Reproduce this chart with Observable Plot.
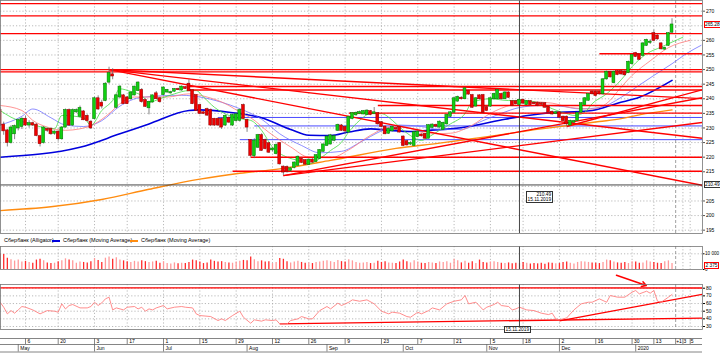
<!DOCTYPE html>
<html><head><meta charset="utf-8">
<script src="https://cdn.jsdelivr.net/npm/d3@7"></script>
<script src="https://cdn.jsdelivr.net/npm/@observablehq/plot@0.6"></script>
<style>
html,body{margin:0;padding:0;background:#fff;}
#wrap{position:relative;width:720px;height:353px;overflow:hidden;background:#fff;font-family:"Liberation Sans",Arial,sans-serif;}
#wrap svg{position:absolute;left:0;overflow:visible;}
.box{position:absolute;font-size:4.8px;line-height:5px;background:#fff;border:0.8px solid #444;padding:0 0.5px;white-space:nowrap;color:#000;}
.leg{position:absolute;font-size:5.5px;top:237px;color:#000;white-space:nowrap;}
.legline{position:absolute;top:240px;height:1.5px;width:8px;}
</style></head><body><div id="wrap"></div>
<script>
// ---------- DATA ----------
const open = [236,231,229,225,228,230,230.5,233,231,231.5,231,227,225,229.5,229.5,228.2,228.6,226.3,230.3,236,
231,235.5,234,235.5,234,232,233.2,240,238.5,239.4,245.7,248.2,237.1,240.6,241,240.3,240,241.3,242.8,242.9,
239.4,236.9,238.9,241.7,240,241.4,242.3,242,242.6,243.2,243,243.8,245,242.8,241.1,237.7,235.2,236.3,236,233,
233,233,231,233.3,231,232.5,232.6,237.7,232.6,225.7,220.5,223.4,227.4,225.7,224.6,222.5,221.2,224.7,216.6,216.5,
215.5,216.5,217.2,219.3,218.8,217.5,219,218.5,219.5,222,224,224.5,225.8,229.2,230.7,230.2,228.6,233.2,234.5,235,
234.8,234.6,235.6,235,234.9,231.8,230.3,228.2,229,229.8,230.2,226.9,225.3,224.5,224,227,227.6,227.8,226.5,230.2,
230.9,230.3,229.5,231.4,234,235.4,239.2,240.2,240,242.6,241.1,237.5,241,241.1,237,237.5,240,240,241.5,240,
242,239,239,238,239.5,238,239,238.5,238.5,238.3,238.3,237.1,235.4,235,235.2,233.7,233.7,231,232,232.5,
235.4,238,239.5,242.3,242.3,242.3,241.7,246.8,249,245.5,249.3,249.3,249.2,249,252,255.5,255,254.8,258.3,259.3,
262.3,261.5,258.8,257,258.3,262.8];
const high = [237,232,229.5,230.8,231,233,233.5,234,232.5,232,231.5,227.5,230.5,230,230,229,229,230.5,236.5,236.5,
236.5,236.5,237.5,236,234.5,232.5,240.5,241,239.5,245.5,250.8,250.3,241.5,244.5,241.5,240.8,242.3,244.3,245.8,243.5,
240,239.2,241.3,242.5,240.5,244,243.2,242.6,243.5,243.6,244.4,244.2,246.5,243,241.3,238,235.6,236.8,236.5,233.3,
233.5,233.5,234.5,233.8,234.8,235,236.5,238.2,233,226,226.3,227.8,228,226.2,225,223.2,224.5,225,217,217,
216.5,218.4,220.4,219.8,219.2,219.4,219.5,220.8,222.6,224.5,227.2,227.8,227.5,231.3,231.2,230.6,234,235.3,235.5,235.8,
236,236.2,236,237,235.3,232.2,230.7,230,230.6,230.3,230.6,227.3,225.7,225.3,228.8,229,228,228.2,231.2,231.4,
231.3,232.4,232,234.7,235.6,240.4,240.9,240.7,243.8,243,241.5,240.4,241.4,241.5,237.4,240.4,241.9,243.2,241.9,242.4,
242.4,239.4,239.4,239.9,239.9,239.4,239.4,238.9,238.9,238.7,238.7,237.5,235.8,235.6,235.6,234.1,234.1,232.7,232.6,235.4,
238.7,240.4,241.8,242.7,242.7,242.7,246.9,249.5,249.4,249.5,249.7,249.7,249.6,252.9,255.2,255.9,255.4,259.2,260.4,260.2,
263.5,261.9,259.2,257.7,262.7,267.4];
const low = [230.5,227.5,223.5,224.5,226,229,229.5,230.5,230,230.5,227,223.5,224.5,228.5,227.5,227.5,225.5,225.8,230,230.5,
230.5,235,233.5,232.5,232,229.5,232.8,236,236.5,239,245,246.5,236.5,240,238,238,239.5,241,242.5,238.5,
237,234.5,238.5,239.8,238.5,241,242,241.6,242.2,242.8,242.6,243.2,242.5,238,235.8,234.5,234.6,234,230.5,230.5,
230.5,229.5,230.5,231.5,230.5,232,232,233,228.5,220,219.5,223,222,222.5,221.3,221.8,220.8,217.3,213.7,214.5,
215,216,217,217.8,217.2,217.2,218,218.2,219.2,221.7,223.7,224.2,225.3,228.8,228.8,227.8,228.2,232.8,234,234.6,
234.5,234.3,234.2,234.7,231,230.2,227.7,227.8,228.7,229.2,228.3,223.6,223.8,224,223.6,226.7,226.9,226.1,226.2,229.9,
230.2,230,229.2,231,233.6,235,238.8,239.6,239.7,241.2,236.7,237.2,239.6,235,235.6,237.1,239.6,239.7,239.6,239.7,
240.1,237.3,237.9,237.7,238.1,237.7,237.6,238,237.3,237.8,236.8,235,234.4,234.6,233.3,232.1,230.5,230.7,231.6,232.2,
235,237.7,239.2,241.3,240.7,241.3,241.3,246.4,247.1,245.1,247.9,248.1,247.8,248.6,251.6,254.1,253.1,254.4,257.9,258.6,
259.6,260.1,256.7,256.6,257.9,262.4];
const close = [231,229,225,230,230.5,232.5,233,231,231.5,231,227.4,224.6,230,229.2,228,228.6,226.3,230,236,231,
236,236,236.7,232.8,232.5,230,240,236.5,237.5,245,248.6,247.8,241,244,238.3,238.3,242,244,245.4,239,
237.4,238.8,241,240,239,243.7,242.9,242.1,243.2,243.1,244,243.5,242.7,238.3,236,235,235,234.4,231,231,
231,230.3,234,232,234.3,234.5,236,233.2,230.3,220.6,225.5,227.4,222.3,222.9,221.7,222.8,224,217.7,214.9,215.2,
216,218,220,218.2,217.6,219,218.3,220.5,222.3,224.2,226.9,227.3,227,230.9,229.2,229,233.7,234.9,235,235.3,
235.6,235.8,234.6,235.2,231.4,230.5,228,229.6,230.2,229.6,228.6,224,224.2,224.7,228.4,228.6,227.3,226.5,230.8,231,
230.6,232,231.6,234.3,235.2,240,240.5,240,243.4,241.6,237.1,240,240,235.4,236,240,241.5,242.8,240,242,
240.5,237.7,238.3,239.5,238.5,239,238,238.3,237.7,238.1,237.1,235.4,234.8,235.2,233.7,232.5,231.4,232.3,232.2,235,
238.3,240,241.4,241.7,241.1,241.7,246.5,249.1,247.5,249.1,248.3,248.5,248.2,252.5,254.8,254.5,253.5,258.8,260,259.4,
260,260.5,257.1,257.3,262.3,265.28];
const volume = [9800,9500,7200,6200,5400,6000,4800,5200,4500,4000,
6000,6600,5500,4200,3800,4000,5000,5500,6800,6000,
5500,4000,4800,4500,4200,5000,7000,5800,4500,7200,
8000,6500,7500,6000,5500,5000,4500,5200,4800,5500,
5000,4500,4800,5200,4000,5000,3800,3500,4200,3600,
4000,3800,4500,6000,5500,4800,3800,4200,6000,5200,
4800,5000,4500,4200,4000,4800,5200,5800,5500,8000,
6200,5000,5500,4800,5000,3800,4500,7000,6500,5000,
4200,4800,5200,4500,4000,4200,3800,4500,4800,5200,
5500,5000,4500,5800,5000,4800,6200,5500,4500,4000,
4200,4400,3800,4000,5200,4500,5000,4200,4000,3800,
4800,6000,5000,4200,5500,4800,4000,3800,4500,4200,
3800,4800,4500,5000,4000,6500,5500,4200,5200,4000,
5000,3800,6000,4500,4200,4800,5000,4500,4000,3800,
4200,3600,4000,3800,4500,4000,3500,3800,3600,4000,
3400,4200,4000,3600,3800,4500,4800,4000,3500,4500,
5000,4800,4500,4200,4000,3800,4500,6000,5500,4800,
4200,4000,4500,3800,5000,4800,4000,4200,5500,4800,
4500,4000,3800,5000,5500,3800];

// Alligator (jaw / teeth / lips) and moving averages at sample bars
const jawIdx = [0,6,9,14,18,23,28,33,39,50,55,61,66,72,77,83,88,94,99,105,110,116,121,127,132,138,143,149,154,160,165,171,174,180,185,189,193];
const jawVal = [231,234,236.5,233.5,231,230.5,232.5,237.5,240.5,241.2,240.6,238.8,236.6,233,228,224,221.5,222,225,229,231,230.5,229.5,229.5,232,235,237,237.7,237.5,236.5,237,240.5,243,248,252,255.5,258.3];
const teethIdx = [0,6,9,13,18,22,26,30,33,37,41,46,52,57,63,66,69,74,80,85,91,96,102,108,113,118,124,130,135,141,146,152,157,163,168,170,174,179,184,190];
const teethVal = [237.7,236,232.6,230.3,229.2,229.7,231.4,234.9,238.3,240.6,240.6,240.6,241.7,240.6,237.7,235.4,233.5,228.5,223.5,220,219.8,222.5,227.5,230.5,229.8,228,228.2,231,235,238,239,238.5,237,236.5,239.5,242.5,248,253,257.5,260];
const lipsIdx = [0,3,8,15,17,23,25,28,31,33,36,39,41,44,48,52,54,56,59,63,66,69,72,75,79,82,85,88,91,94,96,99,102,105,108,110,113,116,118,121,124,128,130,135,140,144,149,152,156,158,161,163,167,171,174,178,182,185,188];
const lipsVal = [236,233.7,231.5,229.7,234.3,233.5,230.9,236,239.4,243.4,242.5,241.1,238.8,240,241.7,242.8,242.8,240.6,237.1,234.3,233.2,232.6,229.2,223.4,220,218.9,217.7,219.5,222.3,225.1,228.6,232.6,234.9,234.9,232.6,230.3,227.4,225.7,226.9,229.2,231.4,234.9,238.8,240,239.4,239.4,238.3,236.6,234.9,234.3,235.4,238.3,241.7,246.5,251,255.4,257.7,259.4,261.1];
const maBlueIdx = [0,22,33,41,52,55,63,72,80,85,91,96,102,107,113,118,124,130,139,149,163,170,176,185];
const maBlueVal = [220,223.4,228,231.4,236,236.2,235.4,233.5,229.5,227.5,227.4,228.6,229.7,229.2,228.8,229.2,229.7,230.7,233,234.9,236,238.5,240.5,246.3];
const maOrangeIdx = [0,14,28,41,55,66,77,91,109,121,130,149,165,171,176,185];
const maOrangeVal = [201.7,203,205.5,209,212.5,214.5,216,218.9,223,224.8,226.3,229.7,232.2,233.2,234.5,236.2];

// RSI read at sample bars
const rsiIdx = [0,1,2,3,4,5,6,7,9,11,13,15,16,17,18,19,20,22,24,25,26,27,28,29,30,31,32,34,35,37,38,39,40,41,42,43,45,46,48,50,51,53,54,55,58,60,61,62,64,66,67,69,70,72,73,75,76,77,79,80,82,83,85,86,88,90,91,93,94,96,97,99,101,103,105,107,108,110,112,113,115,116,118,119,121,123,125,127,128,129,131,133,134,136,137,138,140,141,142,143,145,147,149,151,152,153,154,156,158,160,162,163,165,167,168,170,172,174,175,176,178,179,180,181,182,184,185];
const rsiVal = [61.7,55.2,46.5,50.8,47.4,51.7,56.1,55.2,51.7,46.5,50.8,50,48.7,59.6,53,57.4,58.7,54.3,54.3,56.1,61.7,57.4,60.8,66.1,68.3,51.7,54.3,51.7,55.2,56.1,53,55.2,50,53,51.7,54.3,57.4,53,55.2,56.1,55.2,54.3,46.5,44.3,43,37.8,40,37.8,44.3,50,42.1,34.3,38.7,37,38.7,37.8,38.7,33.4,33.4,37.8,40,43,40,40,50.8,56.1,53,60.5,57.4,61.7,64.8,63,64.8,59.6,50,46.5,48.7,47.4,43,42.1,48.7,46.5,50.8,54.3,51.7,59.6,63,64.8,70.5,59.6,61.7,51.7,55.2,58.7,61.7,57.4,56.1,51.7,53,55.2,51.7,50.8,47.4,45.6,47.4,40,38.7,41.2,51.7,59.6,61.7,61.7,66.1,61.7,70.5,68.3,68.3,74.8,77,72.6,76.1,73.5,77,63,61.7,68.3,71.8];

// Trend lines drawn on the price panel: bar index / price at both ends
const tlI1 = [0,0,0,0,0,165,52,52,104,96,69,64,30,30,30,78,78,156,60,70,66];
const tlP1 = [272.6,268.4,262.3,250.0,249.2,255.4,244.2,243.0,237.7,235.1,220.0,215.2,250,250,250,213.7,213.7,230.5,233.6,230.7,226.0];
const tlI2 = [194,194,194,194,194,194,194,194,194,194,194,194,194,194,194,194,194,194,194,194,194];
const tlP2 = [272.6,268.4,262.3,250.0,249.2,255.4,244.2,243.0,237.7,235.1,220.0,215.2,210.2,240.0,226.4,240.5,232.0,243.3,233.6,230.7,226.0];
const tlKind = ["r","r","r","r","r","r","r","r","r","r","r","r","r","r","r","r","r","r","b","b","b"];

// RSI panel lines
const rsiLineI1 = [0,77,154], rsiLineV1 = [80.5,33.5,37.5];
const rsiLineI2 = [194,194,194], rsiLineV2 = [80.3,41,72.5];
const rsiArrow = {i1:169.7, v1:97, i2:177.9, v2:83.5};

// Axis / tick labels
const priceTicks = [195,200,205,210,215,220,225,230,235,240,245,250,255,260,265,270];
const rsiTicks = [30,40,50,60,70,80];
const volTicks = [0,10000], volTickLbl = ["0","10\u00a0000"];
const dayTickIdx = [7,16,26,35,45,55,65,75,85,95,105,115,125,135,144,154,164,174,180];
const dayTickLbl = ["6","20","3","17","1","15","29","12","26","9","23","7","21","5","18","2","16","30","13"];
const futTickIdx = [186,188,190];
const futTickLbl = ["+1","3","5"];
const monthIdx = [5,26,45,68,90,111,134,154,175];
const monthLbl = ["May","Jun","Jul","Aug","Sep","Oct","Nov","Dec","2020"];
const crossIdx = 143, crossPrice = 210.49, crossDate = "15.11.2019";
const lastPrice = 265.28, lastVolLabel = "2\u00a0375";
const legendText = ["Сбербанк (Alligator)","Сбербанк (Moving Average)","Сбербанк (Moving Average)"];

// ---------- BUILD ----------
const candles = close.map((c,i)=>({i,o:open[i],h:high[i],l:low[i],c,v:volume[i]}));
const pts = (I,V)=>I.map((i,k)=>({i,v:V[k]}));
const trend = tlI1.map((_,k)=>({i1:tlI1[k],p1:tlP1[k],i2:tlI2[k],p2:tlP2[k],kind:tlKind[k]}));
const rsiLines = rsiLineI1.map((_,k)=>({i1:rsiLineI1[k],v1:rsiLineV1[k],i2:rsiLineI2[k],v2:rsiLineV2[k]}));
const XD = [0.1156,193.39];
const xs = {domain:XD, range:[0,702], axis:null};
const FONT = "Liberation Sans, Arial, sans-serif";
const grid = {stroke:"#a8a8a8", strokeOpacity:1, strokeDasharray:"1.2,2", strokeWidth:0.8};
const up = d=>d.c>=d.o;
const wrap = document.getElementById("wrap");
const labelTicks = priceTicks.filter(t=>Math.abs(t-lastPrice)>2 && Math.abs(t-crossPrice)>2);

const main = Plot.plot({
  width:720, height:234, marginTop:0, marginBottom:1, marginLeft:0, marginRight:18,
  x: xs, y:{domain:[193.86,273.66], range:[233,0], axis:null, label:null},
  style:{fontSize:"5px", fontFamily:FONT, background:"transparent", color:"#000"},
  marks:[
    Plot.gridY(priceTicks, grid),
    Plot.gridX(dayTickIdx, grid),
    Plot.ruleX(futTickIdx.slice(0,1), {stroke:"#888", strokeDasharray:"3,2", strokeWidth:0.8}),
    Plot.ruleX(futTickIdx.slice(1), grid),
    Plot.link(trend.filter(d=>d.kind==="b"), {x1:"i1",y1:"p1",x2:"i2",y2:"p2",stroke:"#4a4aff",strokeWidth:1,clip:true}),
    Plot.line(pts(maOrangeIdx,maOrangeVal), {x:"i",y:"v",stroke:"#ff8c10",strokeWidth:1.4,curve:"monotone-x"}),
    Plot.line(pts(maBlueIdx,maBlueVal), {x:"i",y:"v",stroke:"#0000dd",strokeWidth:1.6,curve:"monotone-x"}),
    Plot.line(pts(jawIdx,jawVal), {x:"i",y:"v",stroke:"#7070ff",strokeWidth:0.8,curve:"monotone-x"}),
    Plot.line(pts(teethIdx,teethVal), {x:"i",y:"v",stroke:"#ff7a7a",strokeWidth:0.8,curve:"monotone-x"}),
    Plot.line(pts(lipsIdx,lipsVal), {x:"i",y:"v",stroke:"#44dd44",strokeWidth:0.8,curve:"monotone-x"}),
    Plot.link(trend.filter(d=>d.kind==="r"), {x1:"i1",y1:"p1",x2:"i2",y2:"p2",stroke:"#ff0000",strokeWidth:1.4,clip:true}),
    Plot.ruleX([crossIdx], {stroke:"#333", strokeWidth:0.9}),
    Plot.ruleY([crossPrice], {stroke:"#333", strokeWidth:0.9}),
    Plot.ruleX(candles, {x:"i", y1:"l", y2:"h", stroke:"#666", strokeWidth:0.8}),
    Plot.rect(candles, {x1:d=>d.i-0.4, x2:d=>d.i+0.4, y1:"o", y2:"c", insetTop:-0.5, insetBottom:-0.5,
      fill:d=>up(d)?"#10d010":"#ee0000", stroke:d=>up(d)?"#007000":"#900000", strokeWidth:0.5}),
    Plot.frame({stroke:"#777", strokeWidth:0.8}),
    Plot.axisY(labelTicks, {anchor:"right", label:null, tickSize:2, tickPadding:1.5, fontSize:5, stroke:"#555"})
  ]
});
main.style.top = "0px";
wrap.appendChild(main);

const vol = Plot.plot({
  width:720, height:25, marginTop:0, marginBottom:2, marginLeft:0, marginRight:18,
  x: xs, y:{domain:[0,14650], range:[23,0], axis:null, label:null},
  style:{fontSize:"4.6px", fontFamily:FONT, background:"transparent", color:"#000"},
  marks:[
    Plot.gridY([10000], grid),
    Plot.gridX(dayTickIdx, grid),
    Plot.ruleX(futTickIdx.slice(0,1), {stroke:"#888", strokeDasharray:"3,2", strokeWidth:0.8}),
    Plot.ruleX(futTickIdx.slice(1), grid),
    Plot.ruleX(candles, {x:"i", y1:0, y2:"v", stroke:d=>up(d)?"#ff9a9a":"#ff2a2a", strokeWidth:1.3}),
    Plot.ruleX([crossIdx], {stroke:"#333", strokeWidth:0.9}),
    Plot.frame({stroke:"#777", strokeWidth:0.8}),
    Plot.axisY(volTicks, {anchor:"right", label:null, tickSize:1.5, tickPadding:1, fontSize:4.6, tickFormat:d=>volTickLbl[volTicks.indexOf(d)]})
  ]
});
vol.style.top = "246px";
wrap.appendChild(vol);

const rsi = Plot.plot({
  width:720, height:58, marginTop:12, marginBottom:1, marginLeft:0, marginRight:18,
  x: xs, y:{domain:[26.1,84.85], range:[57,12], axis:null, label:null},
  style:{fontSize:"5px", fontFamily:FONT, background:"transparent", color:"#000"},
  marks:[
    Plot.gridY(rsiTicks, grid),
    Plot.gridX(dayTickIdx, grid),
    Plot.ruleX(futTickIdx.slice(0,1), {stroke:"#888", strokeDasharray:"3,2", strokeWidth:0.8}),
    Plot.ruleX(futTickIdx.slice(1), grid),
    Plot.link(rsiLines, {x1:"i1",y1:"v1",x2:"i2",y2:"v2",stroke:"#ff0000",strokeWidth:1.3,clip:true}),
    Plot.line(pts(rsiIdx,rsiVal), {x:"i",y:"v",stroke:"#ff8080",strokeWidth:0.9}),
    Plot.ruleX([crossIdx], {y1:26.1, y2:84.85, stroke:"#333", strokeWidth:0.9}),
    Plot.arrow([rsiArrow], {x1:"i1",y1:"v1",x2:"i2",y2:"v2",stroke:"#ff0000",strokeWidth:1.5,headLength:5,bend:0}),
    Plot.frame({stroke:"#777", strokeWidth:0.8}),
    Plot.axisY(rsiTicks, {anchor:"right", label:null, tickSize:2, tickPadding:1.5, fontSize:5})
  ]
});
rsi.style.top = "272px";
wrap.appendChild(rsi);

const dax = Plot.plot({
  width:720, height:23, marginTop:0, marginBottom:0, marginLeft:0, marginRight:18,
  x: xs, y:{domain:[0,23], range:[0,23], axis:null, label:null},
  style:{fontSize:"5px", fontFamily:FONT, background:"transparent", color:"#000"},
  marks:[
    Plot.ruleY([8,14,21.5], {x1:XD[0], x2:XD[1], stroke:"#666", strokeWidth:0.8}),
    Plot.ruleX(dayTickIdx.concat(futTickIdx), {y1:8, y2:14, stroke:"#666", strokeWidth:0.8}),
    Plot.ruleX(monthIdx, {y1:14, y2:21.5, stroke:"#666", strokeWidth:0.8}),
    Plot.text(dayTickIdx, {x:d=>d, y:11.3, text:(d,k)=>dayTickLbl[k], textAnchor:"start", dx:2}),
    Plot.text(futTickIdx, {x:d=>d, y:11.3, text:(d,k)=>futTickLbl[k], textAnchor:"start", dx:0.5}),
    Plot.text(monthIdx, {x:d=>d, y:17.8, text:(d,k)=>monthLbl[k], textAnchor:"start", dx:2})
  ]
});
dax.style.top = "330px";
wrap.appendChild(dax);

const mx = main.scale("x"), my = main.scale("y");
function box(txt, left, top, border){
  const d = document.createElement("div"); d.className="box"; d.innerHTML = txt;
  d.style.left = left+"px"; d.style.top = top+"px"; if(border) d.style.borderColor = border;
  wrap.appendChild(d); return d;
}
box(lastPrice.toFixed(2), 703.5, my.apply(lastPrice)-3.2, "#ff0000");
box(crossPrice.toFixed(2), 703.5, my.apply(crossPrice)-3.2, "#333");
box(crossPrice.toFixed(2)+"<br>"+crossDate, mx.apply(crossIdx)+7, my.apply(crossPrice)+7, "#333").style.textAlign="right";
box(lastVolLabel, 704, 246 + vol.scale("y").apply(volume[volume.length-1]) - 1.5, "#ff0000");
box(crossDate, mx.apply(crossIdx)-15, 326, "#333");

const legX = [4, 63, 141];
legendText.forEach((t,k)=>{const d=document.createElement("div");d.className="leg";d.textContent=t;d.style.left=legX[k]+"px";wrap.appendChild(d);});
[["#0000dd",52],["#ff8c10",130]].forEach(([c,x])=>{const d=document.createElement("div");d.className="legline";d.style.background=c;d.style.left=x+"px";wrap.appendChild(d);});
</script></body></html>
